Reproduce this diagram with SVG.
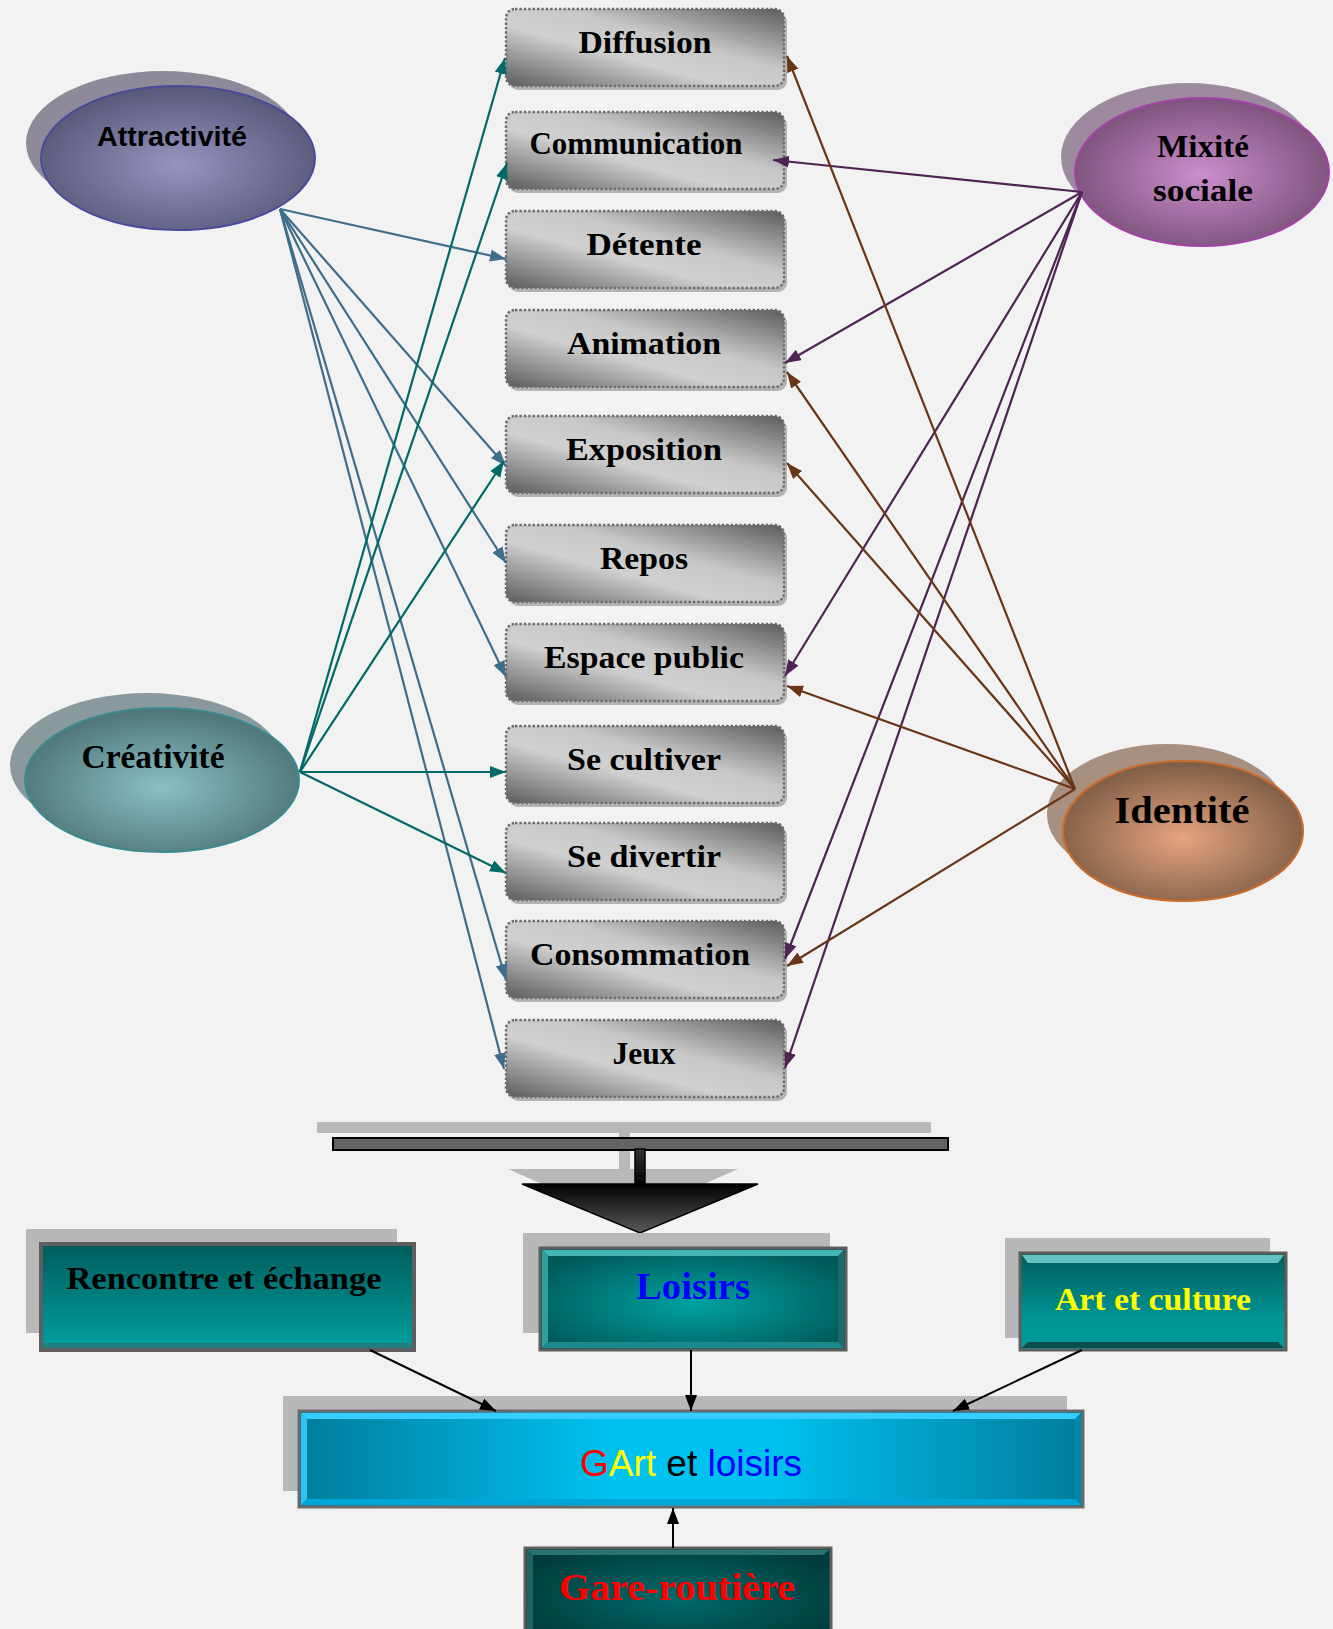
<svg xmlns="http://www.w3.org/2000/svg" width="1333" height="1629" viewBox="0 0 1333 1629">
<defs>
<style>
.bx{fill:url(#boxg);stroke:#6c6c6c;stroke-width:2.4;stroke-dasharray:2.4 2}
.bxs{fill:#b4b4b4}
.lbl{font-family:"Liberation Serif","DejaVu Serif",serif;font-weight:bold;font-size:32px;fill:#000;text-anchor:middle}
.ser{font-family:"Liberation Serif","DejaVu Serif",serif;font-weight:bold;text-anchor:middle}
.sh{fill:#b8b8b8}
.cA{stroke:#3f6d8c;stroke-width:2.2;fill:none;marker-end:url(#mA)}
.cC{stroke:#006a66;stroke-width:2.2;fill:none;marker-end:url(#mC)}
.cM{stroke:#4e2452;stroke-width:2.2;fill:none;marker-end:url(#mM)}
.cI{stroke:#6a3517;stroke-width:2.2;fill:none;marker-end:url(#mI)}
.cK{stroke:#000;stroke-width:2;fill:none;marker-end:url(#mK)}
</style>
<linearGradient id="boxg" x1="1" y1="0" x2="0" y2="1">
<stop offset="0" stop-color="#5c5c5c"/>
<stop offset="0.4" stop-color="#c8c8c8"/>
<stop offset="0.6" stop-color="#d0d0d0"/>
<stop offset="1" stop-color="#5c5c5c"/>
</linearGradient>
<radialGradient id="gAt" cx="50%" cy="55%" r="55%"><stop offset="0" stop-color="#9595c0"/><stop offset="1" stop-color="#585878"/></radialGradient>
<radialGradient id="gMx" cx="50%" cy="52%" r="55%"><stop offset="0" stop-color="#cc8ecc"/><stop offset="1" stop-color="#785078"/></radialGradient>
<radialGradient id="gCr" cx="50%" cy="55%" r="55%"><stop offset="0" stop-color="#88c0c6"/><stop offset="1" stop-color="#4f7476"/></radialGradient>
<radialGradient id="gId" cx="50%" cy="55%" r="55%"><stop offset="0" stop-color="#e6a47e"/><stop offset="1" stop-color="#7e5c46"/></radialGradient>
<linearGradient id="gTri" x1="0" y1="0" x2="0" y2="1"><stop offset="0" stop-color="#000"/><stop offset="1" stop-color="#5a5a5a"/></linearGradient>
<linearGradient id="gStem" x1="0" y1="0" x2="0" y2="1"><stop offset="0" stop-color="#333"/><stop offset="1" stop-color="#000"/></linearGradient>
<linearGradient id="gRe" x1="0" y1="0" x2="0" y2="1"><stop offset="0" stop-color="#005c5c"/><stop offset="1" stop-color="#00a0a0"/></linearGradient>
<radialGradient id="gLo" cx="50%" cy="55%" r="60%"><stop offset="0" stop-color="#00a2a2"/><stop offset="1" stop-color="#005858"/></radialGradient>
<linearGradient id="gAr" x1="0" y1="0" x2="0" y2="1"><stop offset="0" stop-color="#005c5c"/><stop offset="0.7" stop-color="#009696"/><stop offset="1" stop-color="#009a9a"/></linearGradient>
<linearGradient id="gGA" x1="0" y1="0" x2="1" y2="0"><stop offset="0" stop-color="#007c9c"/><stop offset="0.4" stop-color="#00c2f0"/><stop offset="0.6" stop-color="#00c2f0"/><stop offset="1" stop-color="#007c9c"/></linearGradient>
<radialGradient id="gGa" cx="50%" cy="50%" r="60%"><stop offset="0" stop-color="#006a6a"/><stop offset="1" stop-color="#003a3a"/></radialGradient>
<marker id="mA" markerUnits="userSpaceOnUse" markerWidth="18" markerHeight="14" refX="16" refY="6" orient="auto"><path d="M0,0 L16,6 L0,12 z" fill="#3f6d8c"/></marker>
<marker id="mC" markerUnits="userSpaceOnUse" markerWidth="18" markerHeight="14" refX="16" refY="6" orient="auto"><path d="M0,0 L16,6 L0,12 z" fill="#006a66"/></marker>
<marker id="mM" markerUnits="userSpaceOnUse" markerWidth="18" markerHeight="14" refX="16" refY="6" orient="auto"><path d="M0,0 L16,6 L0,12 z" fill="#4e2452"/></marker>
<marker id="mI" markerUnits="userSpaceOnUse" markerWidth="18" markerHeight="14" refX="16" refY="6" orient="auto"><path d="M0,0 L16,6 L0,12 z" fill="#6a3517"/></marker>
<marker id="mK" markerUnits="userSpaceOnUse" markerWidth="18" markerHeight="14" refX="16" refY="6" orient="auto"><path d="M0,0 L16,6 L0,12 z" fill="#000"/></marker>
</defs>
<rect x="0" y="0" width="1333" height="1629" fill="#f2f2f2"/>

<!-- ellipse nodes -->
<g id="attractivite">
<ellipse cx="163" cy="143" rx="137" ry="72" fill="#8e8a9a"/>
<ellipse cx="178" cy="158" rx="137" ry="72" fill="url(#gAt)" stroke="#4a4a9c" stroke-width="2"/>
<text x="172" y="146" font-family="'Liberation Sans',Arial,sans-serif" font-weight="bold" font-size="28" text-anchor="middle" textLength="150" lengthAdjust="spacingAndGlyphs">Attractivité</text>
</g>
<g id="mixite">
<ellipse cx="1188" cy="157" rx="127" ry="74" fill="#9e8a9e"/>
<ellipse cx="1202" cy="172" rx="127" ry="74" fill="url(#gMx)" stroke="#a343a8" stroke-width="2"/>
<text class="ser" x="1203" y="157" font-size="32" textLength="92" lengthAdjust="spacingAndGlyphs">Mixité</text>
<text class="ser" x="1203" y="201" font-size="32" textLength="100" lengthAdjust="spacingAndGlyphs">sociale</text>
</g>
<g id="creativite">
<ellipse cx="147" cy="765" rx="137" ry="72" fill="#8a9a9c"/>
<ellipse cx="162" cy="780" rx="137" ry="72" fill="url(#gCr)" stroke="#3a8a8e" stroke-width="2"/>
<text class="ser" x="153" y="768" font-size="33" textLength="143" lengthAdjust="spacingAndGlyphs">Créativité</text>
</g>
<g id="identite">
<ellipse cx="1167" cy="814" rx="120" ry="70" fill="#a89080"/>
<ellipse cx="1183" cy="831" rx="120" ry="70" fill="url(#gId)" stroke="#c96b2e" stroke-width="2.2"/>
<text class="ser" x="1182" y="823" font-size="38" textLength="135" lengthAdjust="spacingAndGlyphs">Identité</text>
</g>

<!-- central nodes -->
<g id="diffusion"><rect class="bxs" x="509" y="13" width="278" height="77" rx="9"/><rect class="bx" x="506" y="9" width="278" height="77" rx="9"/><text class="lbl" x="645" y="53" textLength="133" lengthAdjust="spacingAndGlyphs">Diffusion</text></g>
<g id="communication"><rect class="bxs" x="509" y="116" width="278" height="77" rx="9"/><rect class="bx" x="506" y="112" width="278" height="77" rx="9"/><text class="lbl" x="636" y="154" textLength="213" lengthAdjust="spacingAndGlyphs">Communication</text></g>
<g id="detente"><rect class="bxs" x="509" y="215" width="278" height="77" rx="9"/><rect class="bx" x="506" y="211" width="278" height="77" rx="9"/><text class="lbl" x="644" y="255" textLength="115" lengthAdjust="spacingAndGlyphs">Détente</text></g>
<g id="animation"><rect class="bxs" x="509" y="314" width="278" height="77" rx="9"/><rect class="bx" x="506" y="310" width="278" height="77" rx="9"/><text class="lbl" x="644" y="354" textLength="154" lengthAdjust="spacingAndGlyphs">Animation</text></g>
<g id="exposition"><rect class="bxs" x="509" y="420" width="278" height="77" rx="9"/><rect class="bx" x="506" y="416" width="278" height="77" rx="9"/><text class="lbl" x="644" y="460" textLength="156" lengthAdjust="spacingAndGlyphs">Exposition</text></g>
<g id="repos"><rect class="bxs" x="509" y="529" width="278" height="77" rx="9"/><rect class="bx" x="506" y="525" width="278" height="77" rx="9"/><text class="lbl" x="644" y="569" textLength="88" lengthAdjust="spacingAndGlyphs">Repos</text></g>
<g id="espace-public"><rect class="bxs" x="509" y="628" width="278" height="77" rx="9"/><rect class="bx" x="506" y="624" width="278" height="77" rx="9"/><text class="lbl" x="644" y="668" textLength="200" lengthAdjust="spacingAndGlyphs">Espace public</text></g>
<g id="se-cultiver"><rect class="bxs" x="509" y="730" width="278" height="77" rx="9"/><rect class="bx" x="506" y="726" width="278" height="77" rx="9"/><text class="lbl" x="644" y="770" textLength="154" lengthAdjust="spacingAndGlyphs">Se cultiver</text></g>
<g id="se-divertir"><rect class="bxs" x="509" y="827" width="278" height="77" rx="9"/><rect class="bx" x="506" y="823" width="278" height="77" rx="9"/><text class="lbl" x="644" y="867" textLength="154" lengthAdjust="spacingAndGlyphs">Se divertir</text></g>
<g id="consommation"><rect class="bxs" x="509" y="925" width="278" height="77" rx="9"/><rect class="bx" x="506" y="921" width="278" height="77" rx="9"/><text class="lbl" x="640" y="965" textLength="220" lengthAdjust="spacingAndGlyphs">Consommation</text></g>
<g id="jeux"><rect class="bxs" x="509" y="1024" width="278" height="77" rx="9"/><rect class="bx" x="506" y="1020" width="278" height="77" rx="9"/><text class="lbl" x="644" y="1064" textLength="63" lengthAdjust="spacingAndGlyphs">Jeux</text></g>

<!-- T-shaped merge arrow -->
<g id="merge-arrow">
<rect x="317" y="1122" width="614" height="11" fill="#b8b8b8"/>
<rect x="619" y="1133" width="11" height="36" fill="#b8b8b8"/>
<polygon points="508,1169 738,1169 623,1220" fill="#b8b8b8"/>
<rect x="333" y="1138" width="615" height="12" fill="#636363" stroke="#000" stroke-width="2"/>
<rect x="635" y="1149" width="10" height="37" fill="url(#gStem)" stroke="#000" stroke-width="1.5"/>
<polygon points="522,1184 758,1184 640,1233" fill="url(#gTri)" stroke="#000" stroke-width="1.5"/>
</g>

<!-- bottom nodes -->
<g id="rencontre">
<rect class="sh" x="26" y="1229" width="371" height="104"/>
<rect x="41" y="1244" width="373" height="106" fill="url(#gRe)" stroke="#5e5e5e" stroke-width="4"/>
<rect x="43" y="1343" width="369" height="5" fill="#3a6a6a" opacity="0.6"/>
<text class="ser" x="224" y="1289" font-size="32" fill="#000" textLength="315" lengthAdjust="spacingAndGlyphs">Rencontre et échange</text>
</g>
<g id="loisirs">
<rect class="sh" x="523" y="1233" width="307" height="100"/>
<rect x="540" y="1248" width="306" height="102" fill="url(#gLo)" stroke="#5e5e5e" stroke-width="3"/>
<polygon points="542,1250 844,1250 838,1256 548,1256" fill="#45b5b5"/>
<polygon points="542,1250 548,1256 548,1342 542,1348" fill="#2fa0a0"/>
<polygon points="844,1250 838,1256 838,1342 844,1348" fill="#1a6a6a"/>
<polygon points="542,1348 548,1342 838,1342 844,1348" fill="#1c8a8a"/>
<text class="ser" x="693" y="1299" font-size="38" fill="#0000ff" textLength="114" lengthAdjust="spacingAndGlyphs">Loisirs</text>
</g>
<g id="art-culture">
<rect class="sh" x="1005" y="1238" width="265" height="100"/>
<rect x="1020" y="1253" width="266" height="97" fill="url(#gAr)" stroke="#5e5e5e" stroke-width="3"/>
<polygon points="1022,1255 1284,1255 1278,1263 1028,1263" fill="#66c2c2"/>
<polygon points="1022,1348 1028,1342 1278,1342 1284,1348" fill="#0b4e4e"/>
<text class="ser" x="1153" y="1310" font-size="32" fill="#ffff00" textLength="196" lengthAdjust="spacingAndGlyphs">Art et culture</text>
</g>
<g id="gart">
<rect class="sh" x="283" y="1396" width="784" height="95"/>
<rect x="299" y="1411" width="784" height="96" fill="url(#gGA)" stroke="#6a6a6a" stroke-width="3"/>
<polygon points="301,1413 1081,1413 1075,1419 307,1419" fill="#35ccff"/>
<polygon points="301,1413 307,1419 307,1499 301,1505" fill="#2ec4f4"/>
<polygon points="1081,1413 1075,1419 1075,1499 1081,1505" fill="#0088aa"/>
<polygon points="301,1505 307,1499 1075,1499 1081,1505" fill="#00a6d8"/>
<text x="580" y="1476" font-family="'Liberation Sans',Arial,sans-serif" font-size="37" textLength="222" lengthAdjust="spacingAndGlyphs"><tspan fill="#ff0000">G</tspan><tspan fill="#ffff00">Art</tspan><tspan fill="#000000"> et </tspan><tspan fill="#0000ff">loisirs</tspan></text>
</g>
<g id="gare-routiere">
<rect x="525" y="1548" width="306" height="100" fill="url(#gGa)" stroke="#5e5e5e" stroke-width="3"/>
<polygon points="527,1550 829,1550 823,1555 533,1555" fill="#2a7373"/>
<polygon points="527,1550 533,1555 533,1629 527,1629" fill="#1f6363"/>
<text class="ser" x="677" y="1600" font-size="38" fill="#ff0000" textLength="236" lengthAdjust="spacingAndGlyphs">Gare-routière</text>
</g>

<!-- connectors -->
<g id="connectors">
<line class="cA" x1="280" y1="209" x2="506" y2="259"/>
<line class="cA" x1="280" y1="209" x2="506" y2="466"/>
<line class="cA" x1="280" y1="209" x2="506" y2="563"/>
<line class="cA" x1="280" y1="209" x2="506" y2="677"/>
<line class="cA" x1="280" y1="209" x2="506" y2="980"/>
<line class="cA" x1="280" y1="209" x2="504" y2="1069"/>
<line class="cC" x1="300" y1="772" x2="505" y2="58"/>
<line class="cC" x1="300" y1="772" x2="507" y2="163"/>
<line class="cC" x1="300" y1="772" x2="504" y2="461"/>
<line class="cC" x1="300" y1="772" x2="506" y2="772"/>
<line class="cC" x1="300" y1="772" x2="506" y2="873"/>
<line class="cM" x1="1082" y1="192" x2="773" y2="160"/>
<line class="cM" x1="1082" y1="192" x2="785" y2="363"/>
<line class="cM" x1="1082" y1="192" x2="785" y2="676"/>
<line class="cM" x1="1082" y1="192" x2="785" y2="959"/>
<line class="cM" x1="1082" y1="192" x2="785" y2="1068"/>
<line class="cI" x1="1075" y1="789" x2="787" y2="56"/>
<line class="cI" x1="1075" y1="789" x2="787" y2="372"/>
<line class="cI" x1="1075" y1="789" x2="787" y2="463"/>
<line class="cI" x1="1075" y1="789" x2="787" y2="686"/>
<line class="cI" x1="1075" y1="789" x2="787" y2="966"/>
<line class="cK" x1="370" y1="1350" x2="496" y2="1411"/>
<line class="cK" x1="691" y1="1350" x2="691" y2="1411"/>
<line class="cK" x1="1082" y1="1350" x2="953" y2="1411"/>
<line class="cK" x1="673" y1="1548" x2="673" y2="1508"/>
</g>
</svg>
